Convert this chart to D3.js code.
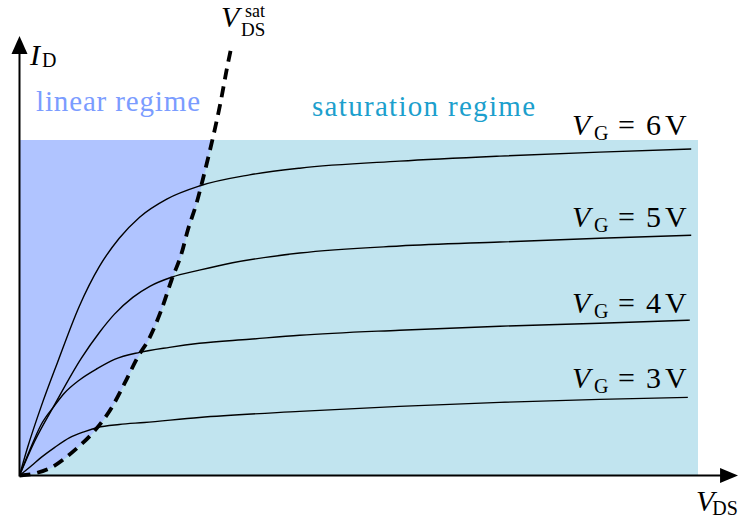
<!DOCTYPE html>
<html>
<head>
<meta charset="utf-8">
<script src="https://cdn.jsdelivr.net/npm/d3@7"></script>
<style>
  html, body { margin: 0; padding: 0; background: #fff; }
  svg { display: block; }
</style>
</head>
<body>
<svg id="chart" width="740" height="522"></svg>
<script>
// Output characteristics of a MOSFET: I_D versus V_DS for several gate voltages
// (arbitrary units on both axes).

// Gate voltages of the drawn characteristics
const gateVoltages = [6, 5, 4, 3];

// [V_DS, I_D] samples of each characteristic
const curveVG6 = [[0,0],[0.12,0.84],[0.32,2.06],[0.56,3.37],[0.88,5.04],[1.18,6.24],[1.47,7.07],[1.77,7.70],[2.17,8.24],[2.65,8.63],[3.39,8.96],[4.13,9.16],[5.60,9.37],[7.08,9.52],[8.55,9.64],[9.90,9.73]];
const curveVG5 = [[0,0],[0.22,1.01],[0.52,2.12],[0.91,3.49],[1.18,4.27],[1.40,4.81],[1.67,5.31],[1.92,5.64],[2.24,5.91],[2.65,6.12],[3.14,6.34],[4.13,6.63],[5.60,6.84],[7.08,6.96],[8.55,7.07],[9.90,7.16]];
const curveVG4 = [[0,0],[0.15,0.75],[0.32,1.52],[0.52,2.09],[0.66,2.45],[0.88,2.84],[1.15,3.19],[1.40,3.46],[1.77,3.67],[2.21,3.82],[2.65,3.94],[3.39,4.06],[4.13,4.18],[5.60,4.33],[7.08,4.45],[8.55,4.54],[9.88,4.63]];
const curveVG3 = [[0,0],[0.18,0.30],[0.32,0.54],[0.52,0.84],[0.74,1.13],[0.96,1.31],[1.15,1.43],[1.47,1.52],[1.84,1.58],[2.65,1.73],[4.13,1.91],[5.60,2.06],[7.08,2.18],[8.55,2.27],[9.85,2.33]];

// Saturation boundary V_DS = V_DS^sat, traced from the origin upward
const satBoundary = [[0,0],[0.22,0.06],[0.47,0.24],[0.81,0.75],[1.11,1.34],[1.36,2.03],[1.55,2.75],[1.74,3.52],[1.92,4.12],[2.09,4.93],[2.24,5.82],[2.39,6.63],[2.48,7.31],[2.61,8.12],[2.70,8.81],[2.79,9.55],[2.88,10.33],[2.97,11.19],[3.05,12.06],[3.13,12.84]];

// Plot window (shaded area) and axis extents
const vdsMax = 10, idMax = 10;
const vdsAxisEnd = 10.59, idAxisEnd = 13.1;

const svg = d3.select("#chart");
const x = d3.scaleLinear().domain([0, vdsMax]).range([19.5, 698]);
const y = d3.scaleLinear().domain([0, idMax]).range([475.5, 140]);

const line = d3.line()
  .x(d => x(d[0]))
  .y(d => y(d[1]))
  .curve(d3.curveMonotoneX);

// Shaded regions
svg.append("defs").append("clipPath").attr("id", "plotClip")
  .append("rect")
  .attr("x", x(0)).attr("y", y(idMax))
  .attr("width", x(vdsMax) - x(0)).attr("height", y(0) - y(idMax));

svg.append("rect")
  .attr("x", x(0)).attr("y", y(idMax))
  .attr("width", x(vdsMax) - x(0)).attr("height", y(0) - y(idMax))
  .attr("fill", "#c1e4ef");

const boundaryEnd = satBoundary[satBoundary.length - 1];
const linearArea = line(satBoundary) + `L${x(0)},${y(boundaryEnd[1])}Z`;
svg.append("path")
  .attr("d", linearArea)
  .attr("fill", "#b0c4ff")
  .attr("stroke", "#a9c9f5")
  .attr("stroke-width", 0.8)
  .attr("clip-path", "url(#plotClip)");

// Characteristics
const curves = [curveVG6, curveVG5, curveVG4, curveVG3];
svg.append("g").selectAll("path")
  .data(curves)
  .join("path")
  .attr("d", line)
  .attr("fill", "none")
  .attr("stroke", "#000")
  .attr("stroke-width", 1.4);

// V_DS^sat parabola
svg.append("path")
  .attr("d", line(satBoundary))
  .attr("fill", "none")
  .attr("stroke", "#000")
  .attr("stroke-width", 3.8)
  .attr("stroke-dasharray", "11,7");

// Axes with arrow heads
const ax = svg.append("g");
ax.append("line")
  .attr("x1", x(0)).attr("y1", y(0))
  .attr("x2", x(vdsAxisEnd) - 14).attr("y2", y(0))
  .attr("stroke", "#000").attr("stroke-width", 2);
ax.append("line")
  .attr("x1", x(0)).attr("y1", y(0) + 1)
  .attr("x2", x(0)).attr("y2", y(idAxisEnd) + 14)
  .attr("stroke", "#000").attr("stroke-width", 2);
const xt = x(vdsAxisEnd), y0 = y(0);
ax.append("path")
  .attr("d", `M${xt},${y0}L${xt - 18},${y0 - 7.5}L${xt - 18},${y0 + 7.5}Z`)
  .attr("fill", "#000");
const yt = y(idAxisEnd), x0 = x(0);
ax.append("path")
  .attr("d", `M${x0},${yt}L${x0 - 8},${yt + 18}L${x0 + 8},${yt + 18}Z`)
  .attr("fill", "#000");

// Text helper with serif face
function serifText(px, py, size) {
  return svg.append("text")
    .attr("x", px).attr("y", py)
    .attr("font-family", "Liberation Serif")
    .attr("font-size", size)
    .attr("fill", "#000");
}

// I_D
const iLabel = serifText(30, 65, 30);
iLabel.append("tspan").attr("font-style", "italic").text("I");
iLabel.append("tspan").attr("font-size", 20).attr("dy", 2).attr("dx", 2).text("D");

// V_DS at the end of the horizontal axis
const vLabel = serifText(696, 511, 30);
vLabel.append("tspan").attr("font-style", "italic").text("V");
vLabel.append("tspan").attr("font-size", 20).attr("dy", 4).attr("dx", -2).text("DS");

// V_DS^sat above the dashed boundary
serifText(221, 27, 30).attr("font-style", "italic").text("V");
serifText(245, 16.5, 18).text("sat");
serifText(241, 35.5, 19).text("DS");

// Gate-voltage labels at the right-hand end of each characteristic
const labelBaselines = [135, 227, 313, 388];
gateVoltages.forEach((vg, i) => {
  const b = labelBaselines[i];
  const t = serifText(572, b, 30);
  t.append("tspan").attr("font-style", "italic").text("V");
  t.append("tspan").attr("x", 594).attr("y", b + 5).attr("font-size", 20).text("G");
  t.append("tspan").attr("x", 618).attr("y", b).text("=");
  t.append("tspan").attr("x", 646).attr("y", b).text(String(vg));
  t.append("tspan").attr("x", 665).attr("y", b).text("V");
});

// Regime names
serifText(36, 111, 29)
  .attr("textLength", 164).attr("lengthAdjust", "spacing")
  .attr("fill", "#7b9cff")
  .text("linear regime");
serifText(312, 116, 29)
  .attr("textLength", 223).attr("lengthAdjust", "spacing")
  .attr("fill", "#1c9fcd")
  .text("saturation regime");
</script>
</body>
</html>
